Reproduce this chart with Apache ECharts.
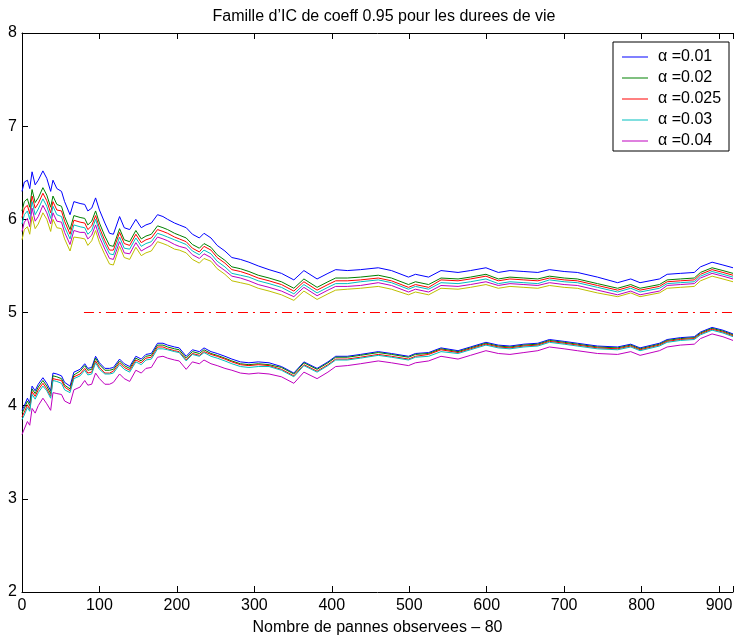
<!DOCTYPE html>
<html><head><meta charset="utf-8">
<script src="https://cdn.jsdelivr.net/npm/echarts@6/dist/echarts.min.js"></script>
<style>html,body{margin:0;padding:0;background:#fff}#c{width:736px;height:641px}</style>
</head><body><div id="c"></div>
<script>
const X = [0,3,7,10,13,17,21,27,32,37,40,45,51,55,62,67,75,81,85,90,95,100,107,113,118,126,132,139,147,154,160,167,175,182,188,197,203,212,220,229,235,244,252,262,271,282,293,305,319,335,351,364,381,395,405,420,437,460,477,499,508,525,541,563,579,599,615,630,648,666,681,700,717,743,769,786,798,823,833,850,868,876,891,905,918];
const upBlue = [6.30,6.40,6.42,6.33,6.51,6.37,6.42,6.52,6.44,6.30,6.42,6.33,6.30,6.19,6.05,6.19,6.17,6.16,6.09,6.12,6.23,6.10,5.96,5.85,5.84,6.03,5.91,5.89,6.00,5.91,5.94,5.96,6.05,6.03,6.00,5.96,5.94,5.91,5.84,5.80,5.85,5.80,5.72,5.66,5.59,5.57,5.54,5.50,5.46,5.42,5.35,5.45,5.36,5.42,5.46,5.45,5.46,5.48,5.45,5.38,5.41,5.38,5.45,5.43,5.45,5.48,5.43,5.45,5.44,5.43,5.46,5.44,5.43,5.38,5.32,5.36,5.32,5.36,5.41,5.42,5.43,5.49,5.54,5.51,5.48];
const upGreen = [6.09,6.19,6.22,6.13,6.32,6.18,6.23,6.34,6.26,6.13,6.25,6.16,6.14,6.03,5.89,6.04,6.02,6.01,5.94,5.98,6.09,5.96,5.82,5.72,5.71,5.90,5.78,5.76,5.88,5.79,5.82,5.84,5.93,5.91,5.89,5.85,5.83,5.80,5.73,5.69,5.74,5.70,5.62,5.56,5.49,5.47,5.44,5.40,5.37,5.33,5.26,5.36,5.27,5.33,5.37,5.37,5.38,5.40,5.37,5.30,5.33,5.30,5.37,5.36,5.38,5.41,5.36,5.38,5.37,5.36,5.39,5.37,5.36,5.31,5.26,5.30,5.26,5.30,5.35,5.36,5.37,5.43,5.48,5.45,5.42];
const upRed = [6.02,6.12,6.15,6.06,6.25,6.12,6.17,6.28,6.20,6.07,6.19,6.10,6.09,5.98,5.84,5.99,5.97,5.96,5.89,5.93,6.04,5.91,5.77,5.67,5.67,5.86,5.74,5.72,5.84,5.75,5.78,5.80,5.89,5.87,5.85,5.81,5.79,5.76,5.69,5.65,5.71,5.67,5.59,5.53,5.46,5.44,5.41,5.37,5.34,5.30,5.23,5.33,5.24,5.30,5.34,5.34,5.35,5.37,5.34,5.27,5.30,5.27,5.35,5.34,5.36,5.39,5.34,5.36,5.35,5.34,5.37,5.35,5.34,5.29,5.24,5.28,5.24,5.28,5.33,5.34,5.35,5.41,5.46,5.43,5.40];
const upCyan = [5.95,6.05,6.09,6.00,6.19,6.05,6.11,6.22,6.14,6.01,6.14,6.05,6.03,5.92,5.79,5.94,5.92,5.91,5.84,5.88,6.00,5.87,5.73,5.63,5.62,5.81,5.69,5.68,5.80,5.71,5.74,5.76,5.85,5.83,5.81,5.78,5.76,5.73,5.66,5.62,5.67,5.63,5.55,5.49,5.42,5.40,5.38,5.34,5.31,5.27,5.20,5.30,5.21,5.27,5.31,5.31,5.33,5.35,5.32,5.25,5.28,5.25,5.32,5.31,5.33,5.36,5.31,5.33,5.32,5.31,5.35,5.33,5.32,5.27,5.22,5.26,5.22,5.26,5.31,5.32,5.33,5.39,5.44,5.41,5.38];
const upMagenta = [5.87,5.97,6.01,5.92,6.12,5.98,6.03,6.15,6.07,5.95,6.07,5.98,5.97,5.86,5.73,5.88,5.86,5.86,5.79,5.83,5.94,5.81,5.68,5.58,5.57,5.76,5.64,5.63,5.75,5.66,5.69,5.72,5.81,5.79,5.77,5.73,5.71,5.69,5.62,5.58,5.63,5.59,5.51,5.45,5.39,5.37,5.34,5.30,5.27,5.23,5.17,5.27,5.18,5.24,5.28,5.28,5.29,5.32,5.29,5.22,5.25,5.22,5.29,5.28,5.30,5.33,5.29,5.31,5.30,5.29,5.32,5.30,5.29,5.24,5.19,5.23,5.19,5.23,5.29,5.30,5.31,5.37,5.42,5.39,5.36];
const upYellow = [5.78,5.89,5.92,5.84,6.03,5.90,5.95,6.07,6.00,5.87,6.00,5.91,5.90,5.79,5.66,5.81,5.80,5.79,5.72,5.77,5.88,5.75,5.62,5.52,5.51,5.71,5.59,5.57,5.70,5.61,5.64,5.66,5.76,5.74,5.72,5.68,5.67,5.64,5.57,5.53,5.58,5.55,5.47,5.41,5.34,5.32,5.30,5.26,5.23,5.19,5.13,5.23,5.14,5.20,5.24,5.25,5.26,5.28,5.25,5.19,5.22,5.19,5.26,5.25,5.27,5.30,5.26,5.28,5.27,5.26,5.29,5.27,5.26,5.21,5.17,5.21,5.17,5.21,5.26,5.27,5.28,5.34,5.39,5.36,5.33];
const loBlue = [3.95,4.00,4.08,4.03,4.21,4.16,4.23,4.30,4.24,4.16,4.35,4.34,4.32,4.25,4.21,4.36,4.39,4.45,4.40,4.41,4.53,4.46,4.40,4.40,4.41,4.50,4.45,4.42,4.53,4.50,4.55,4.56,4.67,4.67,4.65,4.63,4.62,4.53,4.60,4.58,4.62,4.58,4.56,4.53,4.50,4.47,4.46,4.47,4.46,4.42,4.35,4.47,4.40,4.47,4.53,4.53,4.55,4.58,4.56,4.53,4.56,4.57,4.62,4.59,4.63,4.68,4.65,4.64,4.66,4.67,4.71,4.69,4.67,4.64,4.63,4.66,4.62,4.67,4.71,4.73,4.74,4.79,4.84,4.81,4.77];
const loGreen = [3.92,3.97,4.05,4.00,4.18,4.13,4.20,4.27,4.21,4.13,4.32,4.31,4.29,4.22,4.18,4.33,4.37,4.43,4.38,4.39,4.51,4.44,4.38,4.38,4.39,4.48,4.43,4.40,4.51,4.48,4.53,4.54,4.65,4.65,4.63,4.61,4.60,4.51,4.58,4.56,4.60,4.56,4.54,4.51,4.48,4.45,4.44,4.45,4.44,4.41,4.34,4.46,4.39,4.46,4.52,4.52,4.54,4.57,4.55,4.52,4.55,4.56,4.61,4.58,4.62,4.67,4.64,4.63,4.65,4.66,4.70,4.68,4.66,4.63,4.62,4.65,4.61,4.66,4.70,4.72,4.73,4.78,4.83,4.80,4.76];
const loRed = [3.88,3.93,4.01,3.96,4.15,4.10,4.17,4.24,4.18,4.10,4.29,4.28,4.27,4.20,4.16,4.31,4.34,4.40,4.35,4.36,4.48,4.41,4.35,4.35,4.37,4.46,4.41,4.38,4.49,4.46,4.51,4.52,4.63,4.63,4.61,4.59,4.58,4.49,4.56,4.54,4.58,4.55,4.53,4.50,4.47,4.44,4.43,4.44,4.43,4.39,4.32,4.44,4.37,4.44,4.50,4.50,4.52,4.55,4.53,4.50,4.53,4.55,4.60,4.57,4.61,4.66,4.63,4.62,4.64,4.65,4.69,4.67,4.65,4.62,4.61,4.64,4.60,4.65,4.69,4.71,4.72,4.77,4.82,4.79,4.75];
const loCyan = [3.85,3.90,3.98,3.94,4.12,4.07,4.14,4.21,4.16,4.08,4.27,4.26,4.24,4.17,4.14,4.29,4.32,4.38,4.33,4.34,4.46,4.39,4.34,4.34,4.35,4.44,4.39,4.36,4.47,4.44,4.49,4.50,4.61,4.61,4.60,4.58,4.57,4.48,4.55,4.53,4.57,4.53,4.51,4.48,4.45,4.42,4.41,4.42,4.42,4.38,4.31,4.43,4.36,4.43,4.49,4.49,4.51,4.54,4.52,4.49,4.52,4.53,4.58,4.56,4.60,4.65,4.62,4.61,4.63,4.64,4.68,4.66,4.64,4.61,4.60,4.63,4.59,4.64,4.68,4.70,4.71,4.76,4.81,4.78,4.74];
const loMagenta = [3.69,3.75,3.83,3.79,3.97,3.92,4.00,4.08,4.02,3.95,4.14,4.13,4.12,4.05,4.02,4.17,4.20,4.27,4.22,4.23,4.35,4.29,4.23,4.23,4.25,4.34,4.29,4.26,4.38,4.35,4.40,4.41,4.52,4.53,4.51,4.49,4.48,4.39,4.47,4.45,4.49,4.45,4.43,4.40,4.38,4.35,4.34,4.35,4.34,4.31,4.24,4.36,4.29,4.36,4.42,4.43,4.45,4.48,4.46,4.43,4.46,4.48,4.53,4.50,4.54,4.59,4.56,4.55,4.57,4.59,4.63,4.61,4.59,4.56,4.55,4.58,4.54,4.59,4.63,4.65,4.66,4.72,4.77,4.74,4.70];
const refX = [80, 918];
const refY = [5, 5];
const labels = ['\u03b1 =0.01','\u03b1 =0.02','\u03b1 =0.025','\u03b1 =0.03','\u03b1 =0.04'];
const xTicks = [0,100,200,300,400,500,600,700,800,900];

const C = {b:'#0000ff', g:'#008000', r:'#ff0000', c:'#00bfbf', m:'#bf00bf', y:'#bfbf00'};
const pairs = ys => X.map((x,i)=>[x, ys[i]]);
const FONT = 'Liberation Sans, Arial, Helvetica, sans-serif';
const FS = 16;
function ln(name, ys, color){
  return {name, type:'line', data:pairs(ys), showSymbol:false, symbol:'none', animation:false,
    color, lineStyle:{color, width:1}, itemStyle:{color}, z:2};
}
const series = [
  ln(labels[0], upBlue, C.b), ln(labels[1], upGreen, C.g), ln(labels[2], upRed, C.r),
  ln(labels[3], upCyan, C.c), ln(labels[4], upMagenta, C.m), ln('up6', upYellow, C.y),
  ln(labels[0], loBlue, C.b), ln(labels[1], loGreen, C.g), ln(labels[2], loRed, C.r),
  ln(labels[3], loCyan, C.c), ln(labels[4], loMagenta, C.m),
  {name:'ref', type:'line', data:refX.map((x,i)=>[x,refY[i]]), showSymbol:false, symbol:'none', animation:false,
    color:C.r, itemStyle:{color:C.r}, lineStyle:{color:C.r, width:1, type:[10,5,2,5]}, z:2}
];
const chart = echarts.init(document.getElementById('c'), null, {renderer:'canvas'});
chart.setOption({
  animation:false,
  backgroundColor:'#fff',
  title:{text:'Famille d\u2019IC de coeff 0.95 pour les durees de vie', left:379, top:4, textAlign:'center',
    textStyle:{fontFamily:FONT, fontSize:FS, fontWeight:'normal', color:'#000'}},
  grid:{left:22, right:0, top:33, bottom:43, containLabel:false},
  xAxis:[{type:'value', min:0, max:918, interval:100, position:'bottom',
    name:'Nombre de pannes observees \u2013 80', nameLocation:'middle', nameGap:28,
    nameTextStyle:{fontFamily:FONT, fontSize:FS, color:'#000'},
    axisLine:{show:true, lineStyle:{color:'#000', width:1}},
    axisTick:{show:true, inside:true, length:6, lineStyle:{color:'#000'}},
    axisLabel:{fontFamily:FONT, fontSize:FS, color:'#000', margin:6,
      formatter:v => xTicks.includes(v) ? String(v) : ''},
    splitLine:{show:false}},
   {type:'value', min:0, max:918, interval:100, position:'top',
    axisLine:{show:true, onZero:false, lineStyle:{color:'#000', width:1}},
    axisTick:{show:true, inside:true, length:6, lineStyle:{color:'#000'}},
    axisLabel:{show:false}, splitLine:{show:false}}],
  yAxis:{type:'value', min:2, max:8, interval:1,
    axisLine:{show:true, lineStyle:{color:'#000', width:1}},
    axisTick:{show:true, inside:true, length:6, lineStyle:{color:'#000'}},
    axisLabel:{fontFamily:FONT, fontSize:FS, color:'#000', margin:5},
    splitLine:{show:false}},
  legend:{data:labels, orient:'vertical', left:613, top:42, padding:[7,8,2,9],
    itemGap:5, itemWidth:26, itemHeight:1, icon:'rect',
    textStyle:{fontFamily:FONT, fontSize:FS, color:'#000', lineHeight:16, padding:[0,0,0,5]},
    selectedMode:false, z:10},
  graphic:[{type:'rect', shape:{x:613, y:42, width:116, height:109}, z:5,
    style:{fill:'#fff', stroke:'#000', lineWidth:1}}],
  series
});
</script></body></html>
